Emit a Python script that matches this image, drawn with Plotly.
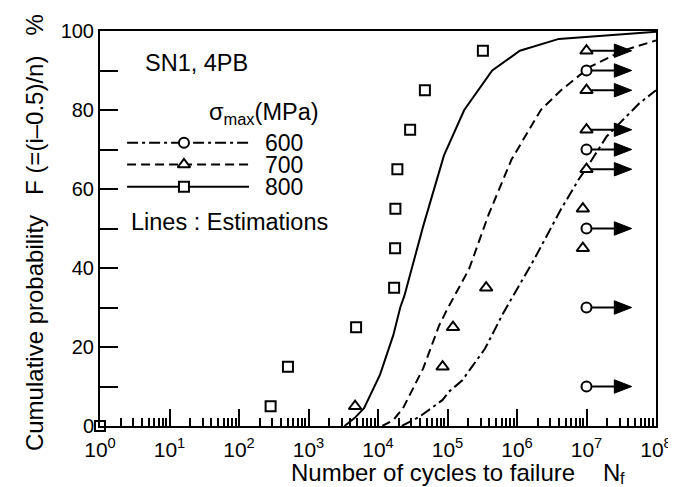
import plotly.graph_objects as go

# ---------------- data ----------------
# 800 MPa test results (squares)
sq_N = [1, 285, 506, 4840, 17060, 17630, 17800, 19000, 29000, 47300, 323000]
sq_F = [0, 5, 15, 25, 35, 45, 55, 65, 75, 85, 95]

# 700 MPa failures (triangles)
tri_N = [4680, 85000, 120000, 360000, 8860000, 8860000]
tri_F = [5, 15, 25, 35, 45, 55]
# 700 MPa run-outs (triangles with arrows)
tri_run_N = [1e7, 1e7, 1e7, 1e7]
tri_run_F = [65, 75, 85, 95]

# 600 MPa run-outs (circles with arrows)
cir_run_N = [1e7, 1e7, 1e7, 1e7, 1e7]
cir_run_F = [10, 30, 50, 70, 90]

# Estimation curves
est800_N = [3.3e3, 4.6e3, 6.3e3, 1.07e4, 1.66e4, 2.09e4, 2.4e4, 4.47e4, 8.9e4, 1.74e5, 4.4e5, 1.1e6, 4.0e6, 1e8]
est800_F = [0, 2, 4.5, 13, 23, 30, 33, 50.6, 68.5, 80, 90, 95, 98, 99.8]

est700_N = [1.15e4, 1.66e4, 2.29e4, 4.47e4, 7.6e4, 1.0e5, 2.04e5, 3.9e5, 8.3e5, 1.58e6, 2.2e6, 4.3e6, 1.12e7, 3.3e7, 1e8]
est700_F = [0, 1.5, 4.5, 14.6, 25.5, 29.7, 39.7, 53.5, 67.4, 75.5, 80, 85, 90.9, 95, 97.6]

est600_N = [2.2e4, 4.0e4, 8.5e4, 1.05e5, 1.62e5, 3.47e5, 6.3e5, 1.78e6, 4.27e6, 7.7e6, 1e7, 1.95e7, 5.75e7, 1e8]
est600_F = [0, 2.4, 6.6, 8.7, 11.5, 19.6, 28.5, 42.3, 54.8, 62.4, 65.3, 73.3, 81.7, 85]

# axis tick labels
x_tickvals = [1, 1e1, 1e2, 1e3, 1e4, 1e5, 1e6, 1e7, 1e8]
x_ticktext = ["10<sup>%d</sup>" % i for i in range(9)]
y_tickvals = [0, 20, 40, 60, 80, 100]

legend_labels = ["600", "700", "800"]

# ---------------- figure ----------------
FONT = "Liberation Sans, Arial, sans-serif"
BLACK = "black"
LW = 2
DASH700 = "9px,5px"
DASH600 = "11px,4px,3px,4px"

fig = go.Figure()

# estimation curves
fig.add_trace(go.Scatter(x=est600_N, y=est600_F, mode="lines",
                         line=dict(color=BLACK, width=LW, dash=DASH600), hoverinfo="skip"))
fig.add_trace(go.Scatter(x=est700_N, y=est700_F, mode="lines",
                         line=dict(color=BLACK, width=LW, dash=DASH700), hoverinfo="skip"))
fig.add_trace(go.Scatter(x=est800_N, y=est800_F, mode="lines",
                         line=dict(color=BLACK, width=LW), hoverinfo="skip"))

# run-out arrows (shaft + filled head), derived from run-out data
BASE = 10 ** 0.40
TIP = 10 ** 0.65
HH = 1.7
shaft_x, shaft_y, head_x, head_y = [], [], [], []
for n, f in list(zip(cir_run_N, cir_run_F)) + list(zip(tri_run_N, tri_run_F)):
    shaft_x += [n, n * BASE, None]
    shaft_y += [f, f, None]
    head_x += [n * BASE, n * TIP, n * BASE, n * BASE, None]
    head_y += [f + HH, f, f - HH, f + HH, None]
fig.add_trace(go.Scatter(x=shaft_x, y=shaft_y, mode="lines",
                         line=dict(color=BLACK, width=LW), hoverinfo="skip"))
fig.add_trace(go.Scatter(x=head_x, y=head_y, mode="lines", fill="toself",
                         fillcolor=BLACK, line=dict(color=BLACK, width=1), hoverinfo="skip"))

mk_line = dict(color=BLACK, width=2)
fig.add_trace(go.Scatter(x=sq_N, y=sq_F, mode="markers", cliponaxis=False,
                         marker=dict(symbol="square", size=10, color="white", line=mk_line)))
fig.add_trace(go.Scatter(x=tri_N + tri_run_N, y=tri_F + tri_run_F, mode="markers", cliponaxis=False,
                         marker=dict(symbol="triangle-up", size=11, color="white", line=mk_line)))
fig.add_trace(go.Scatter(x=cir_run_N, y=cir_run_F, mode="markers", cliponaxis=False,
                         marker=dict(symbol="circle", size=10, color="white", line=mk_line)))

# in-plot legend samples on an overlay axis (0..1 == plot area)
leg_y = [0.717, 0.662, 0.606]
leg_dash = [DASH600, DASH700, "solid"]
leg_sym = ["circle", "triangle-up", "square"]
leg_size = [10, 11, 10]
for yy, d, s, sz in zip(leg_y, leg_dash, leg_sym, leg_size):
    fig.add_trace(go.Scatter(x=[0.0487, 0.268], y=[yy, yy], mode="lines", xaxis="x2", yaxis="y2",
                             line=dict(color=BLACK, width=LW, dash=d), hoverinfo="skip"))
    fig.add_trace(go.Scatter(x=[0.151], y=[yy], mode="markers", xaxis="x2", yaxis="y2",
                             marker=dict(symbol=s, size=sz, color="white", line=mk_line), hoverinfo="skip"))

annotations = []
TXT = 23.5
def ann(text, x, y, size=TXT, xanchor="left", yanchor="middle", angle=0):
    annotations.append(dict(text=text, x=x, y=y, xref="paper", yref="paper", showarrow=False,
                            xanchor=xanchor, yanchor=yanchor, textangle=angle,
                            font=dict(family=FONT, size=size, color=BLACK)))

ann("SN1, 4PB", 0.077, 0.918)
ann("σ<sub>max</sub>(MPa)", 0.192, 0.790)
for lab, yy in zip(legend_labels, leg_y):
    ann(lab, 0.293, yy, size=23)
ann("Lines : Estimations", 0.052, 0.516)
ann("Number of cycles to failure", 0.3405, -0.117, size=24)
ann("N", 0.901, -0.117, size=24)
ann("f", 0.932, -0.133, size=16)
ann("Cumulative probability\u00a0\u00a0\u00a0F (=(i\u20130.5)/n)\u00a0\u00a0\u00a0%", -0.1176, 0.49,
    size=24, xanchor="center", angle=-90)

fig.update_layout(
    width=676, height=487,
    margin=dict(l=91.5, r=19, t=20.5, b=69),
    paper_bgcolor="white", plot_bgcolor="white",
    showlegend=False,
    font=dict(family=FONT, color=BLACK),
    annotations=annotations,
    xaxis=dict(type="log", range=[0, 8], showgrid=False, zeroline=False,
               showline=True, linecolor=BLACK, linewidth=2, mirror=True,
               ticks="inside", ticklen=17, tickwidth=2, tickcolor=BLACK,
               tickmode="array", tickvals=x_tickvals, ticktext=x_ticktext,
               tickfont=dict(family=FONT, size=21, color=BLACK), ticklabelstandoff=4,
               minor=dict(ticks="inside", ticklen=8, tickwidth=1.5, tickcolor=BLACK,
                          dtick="D1", showgrid=False)),
    yaxis=dict(range=[0, 100], showgrid=False, zeroline=False,
               showline=True, linecolor=BLACK, linewidth=2, mirror=True,
               ticks="inside", ticklen=18, tickwidth=2, tickcolor=BLACK,
               tickmode="array", tickvals=y_tickvals,
               tickfont=dict(family=FONT, size=20, color=BLACK),
               minor=dict(ticks="inside", ticklen=18, tickwidth=2, tickcolor=BLACK,
                          dtick=10, showgrid=False)),
    xaxis2=dict(overlaying="x", range=[0, 1], visible=False, fixedrange=True),
    yaxis2=dict(overlaying="y", range=[0, 1], visible=False, fixedrange=True),
)

fig.write_html("out.html")
